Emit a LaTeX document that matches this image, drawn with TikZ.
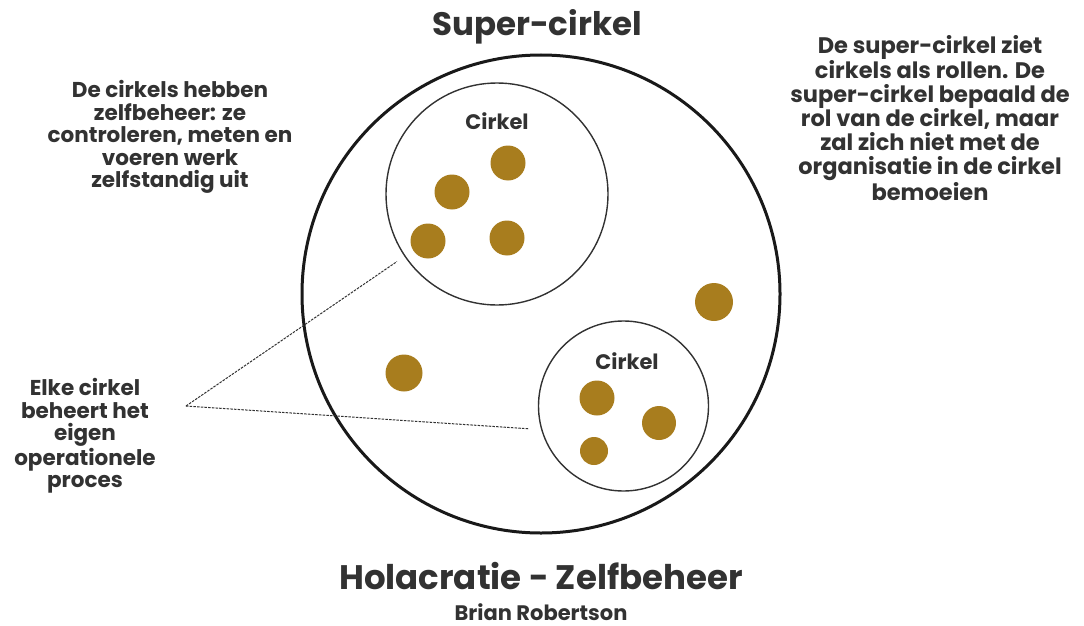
\documentclass[tikz,border=0pt]{standalone}
\usepackage{fontspec}
\setmainfont{Poppins}
\definecolor{gold}{RGB}{168,125,30}
\definecolor{txt}{RGB}{50,50,50}
\begin{document}
\begin{tikzpicture}[x=1pt,y=-1pt,
  dot/.style={circle,fill=gold,draw=none,inner sep=0pt,minimum size=#1},
  body/.style={align=center,text=txt,font=\fontsize{21.5}{22.6}\selectfont\bfseries},
  bodyr/.style={align=center,text=txt,font=\fontsize{22.5}{24.2}\selectfont\bfseries},
  lbl/.style={text=txt,font=\fontsize{21}{22}\selectfont\bfseries},
  ring/.style={circle,draw=txt,line width=1.4pt,inner sep=0pt,minimum size=#1},
  lead/.style={draw=txt,line width=1pt,dash pattern=on 2.5pt off 1.2pt}]
\useasboundingbox (0,0) rectangle (1084,626);
% big circle
\node[circle,draw=black!90,line width=3pt,inner sep=0pt,minimum size=478] (super) at (541,294) {};
% inner circles
\node[ring=222] (c1) at (497,194) {};
\node[ring=170] (c2) at (623.5,406) {};
% labels
\node[lbl] (l1) at (497,121) {Cirkel};
\node[lbl] (l2) at (627,361) {Cirkel};
% dots
\node[dot=35] (d1) at (508,163) {};
\node[dot=35] (d2) at (452,192) {};
\node[dot=35] (d3) at (428,241) {};
\node[dot=35] (d4) at (507,238) {};
\node[dot=38] (d5) at (714,302) {};
\node[dot=37] (d6) at (404,373) {};
\node[dot=35] (d7) at (597,398) {};
\node[dot=34] (d8) at (659,423) {};
\node[dot=28] (d9) at (594,451) {};
% titles
\node[text=txt,font=\fontsize{32.5}{34}\selectfont\bfseries] (t1) at (537,27) {Super-cirkel};
\node[text=txt,font=\fontsize{34}{36}\selectfont\bfseries] (t2) at (541,576) {Holacratie - Zelfbeheer};
\node[text=txt,font=\fontsize{21}{22}\selectfont\bfseries,inner sep=1pt] (t3) at (541,612) {Brian Robertson};
% side texts
\node[body] (n1) at (170,137) {De cirkels hebben\\zelfbeheer: ze\\controleren, meten en\\voeren werk\\zelfstandig uit};
\node[bodyr] (n2) at (930,118) {De super-cirkel ziet\\cirkels als rollen. De\\super-cirkel bepaald de\\rol van de cirkel, maar\\zal zich niet met de\\organisatie in de cirkel\\bemoeien};
\node[body] (n3) at (85,436) {Elke cirkel\\beheert het\\eigen\\operationele\\proces};
% leader lines
\coordinate (apex) at (186,406);
\draw[lead,shorten >=9pt] (apex) -- (c1.214);
\draw[lead,shorten >=12pt] (apex) -- (c2.196);
\end{tikzpicture}
\end{document}
